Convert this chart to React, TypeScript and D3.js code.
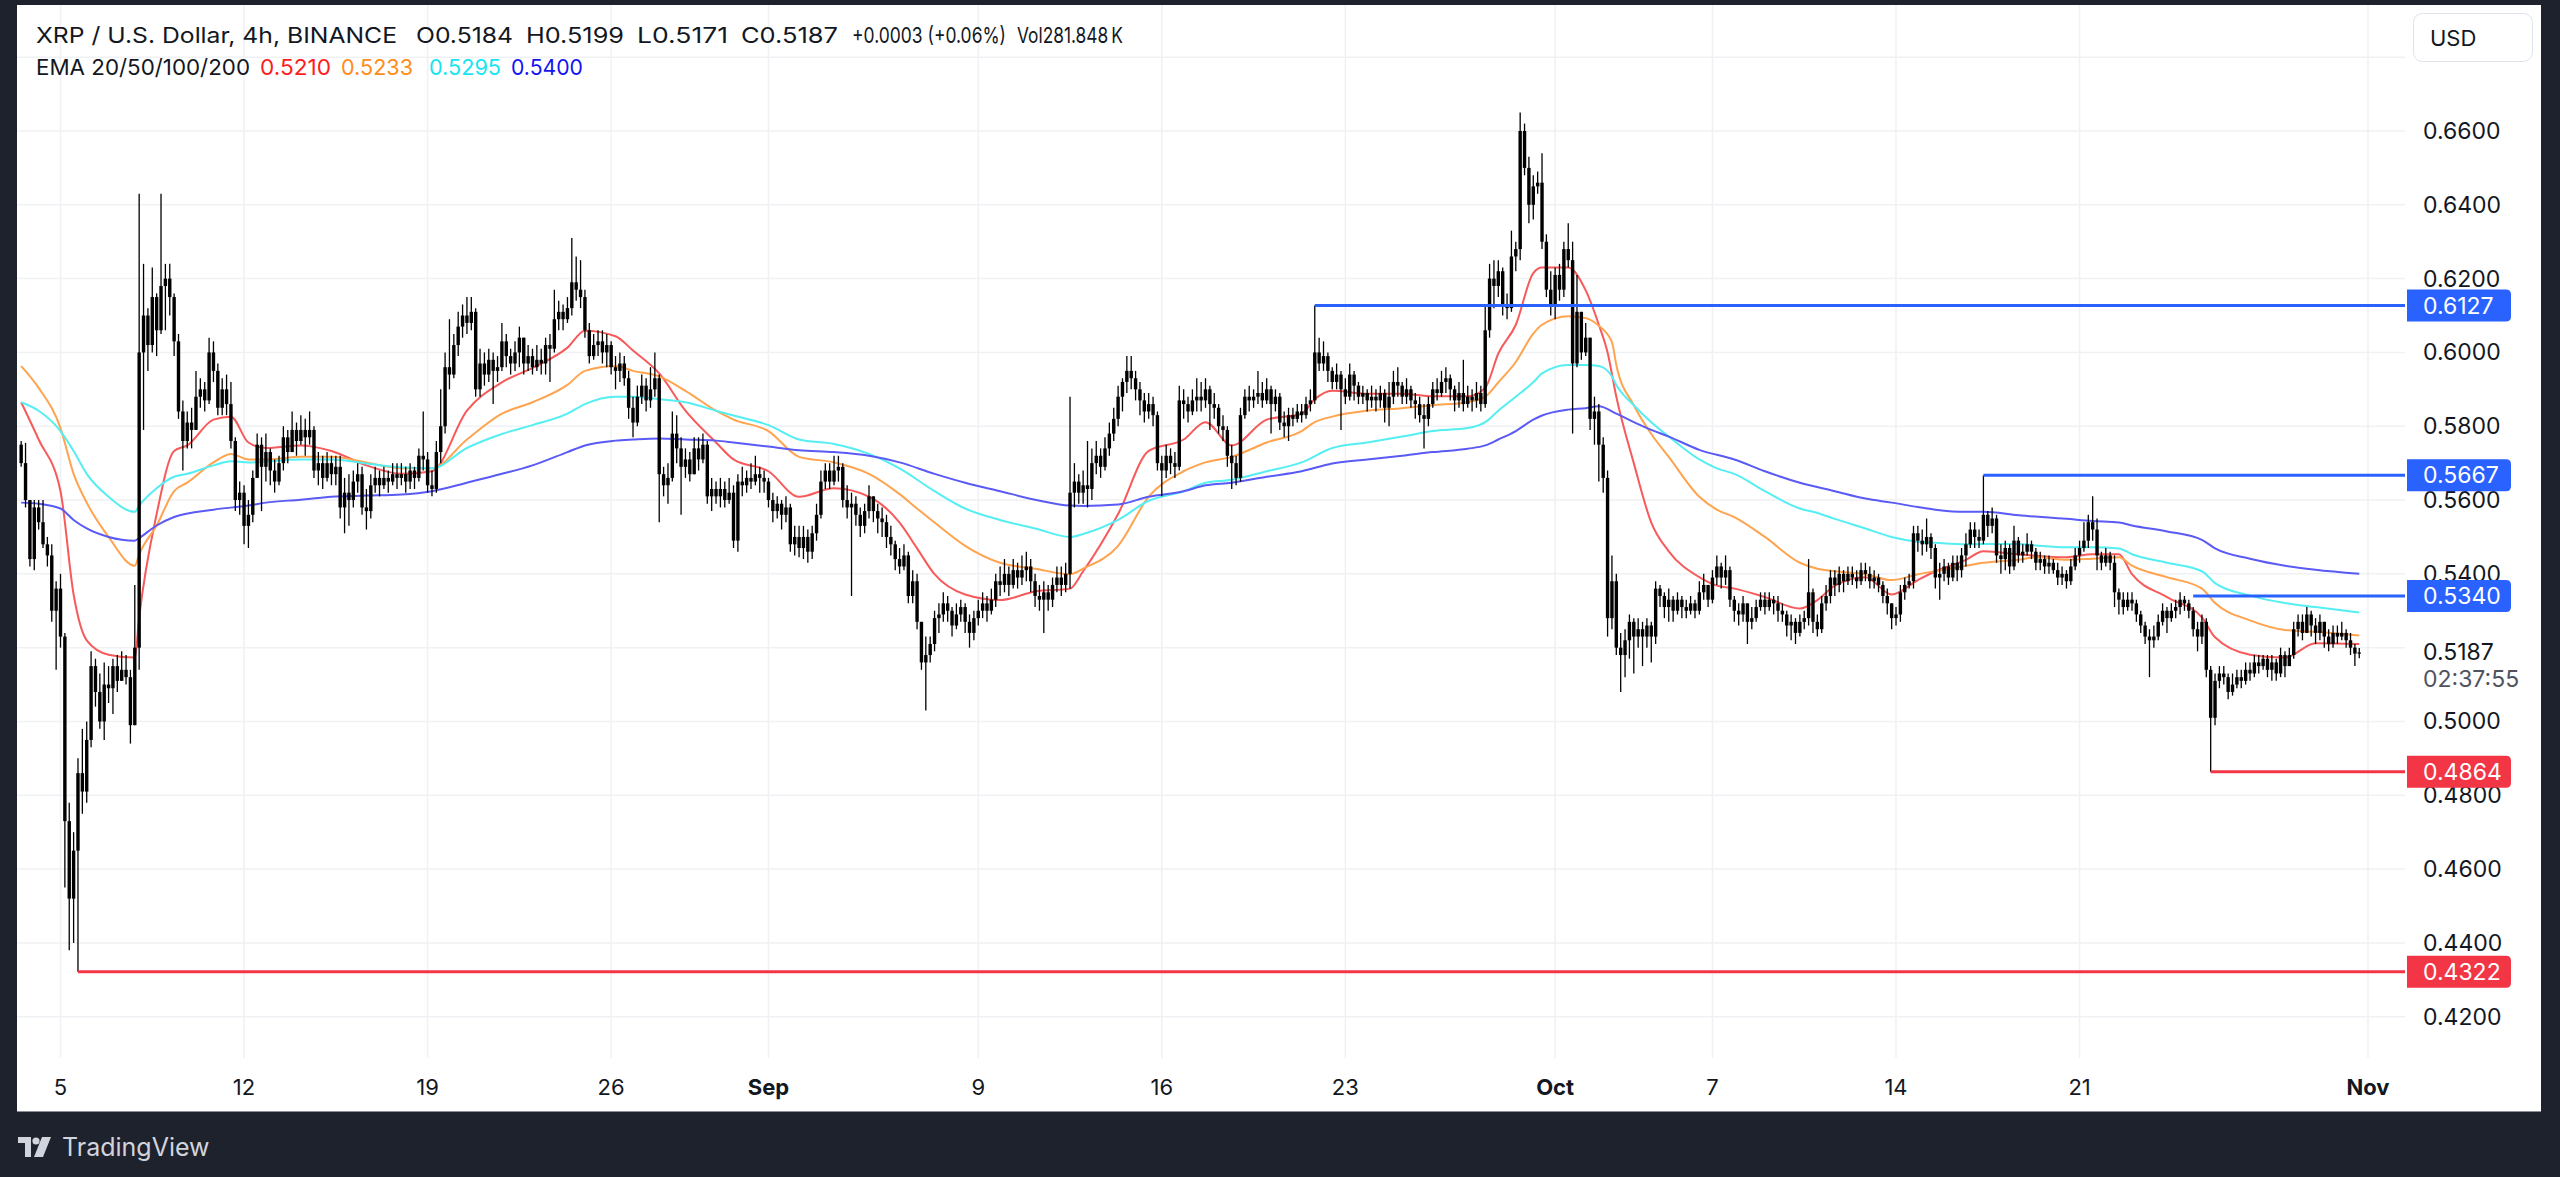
import React from "react";
import * as d3 from "d3";

const W = 2560;
const H = 1177;

// ---------------- DATA ----------------
// 4h bars; bar index 0 = 2024-08-05 00:00 UTC; first bar is index -9
const FIRST_BAR = -9;
const BAR_HOURS = 4;
const PRICE_SCALE = 10000;
const FIRST_OPEN = 5750;

const CLOSE = [
  5700,5600,5440,5580,5540,5480,5450,5300,5360,5230,
  4730,4520,4650,4860,4810,4950,5150,5080,5000,5100,
  5090,5150,5110,5140,5120,4990,5200,6000,6100,6020,
  6150,6060,6180,6200,6150,6030,5840,5760,5810,5790,
  5880,5900,5870,6000,5950,5850,5900,5860,5760,5600,
  5620,5530,5560,5660,5750,5690,5730,5680,5650,5700,
  5770,5730,5790,5760,5790,5770,5790,5680,5700,5660,
  5700,5670,5690,5580,5620,5600,5650,5670,5580,5570,
  5640,5660,5640,5660,5650,5670,5660,5670,5650,5680,
  5660,5720,5710,5640,5630,5730,5800,5960,5940,6020,
  6070,6100,6080,6110,5900,5970,5940,5980,5950,5960,
  6030,5990,5970,6000,6040,5970,5990,5960,5980,5970,
  6020,6010,6090,6110,6090,6120,6190,6170,6150,6060,
  5990,6020,6030,6000,6020,5960,5950,5970,5930,5850,
  5810,5880,5910,5870,5900,5930,5670,5640,5660,5780,
  5740,5690,5710,5670,5740,5710,5750,5610,5630,5610,
  5630,5600,5620,5490,5650,5640,5660,5650,5670,5660,
  5650,5600,5570,5590,5560,5580,5480,5500,5470,5500,
  5460,5510,5560,5650,5680,5650,5680,5690,5600,5580,
  5590,5560,5530,5570,5610,5570,5550,5540,5500,5480,
  5440,5420,5450,5340,5380,5270,5160,5180,5210,5280,
  5290,5320,5300,5260,5290,5310,5270,5240,5280,5300,
  5320,5300,5330,5380,5370,5400,5370,5410,5390,5410,
  5420,5380,5340,5330,5350,5330,5370,5390,5370,5400,
  5620,5650,5620,5640,5630,5700,5720,5690,5740,5780,
  5820,5880,5920,5950,5930,5900,5870,5840,5860,5830,
  5700,5680,5720,5700,5690,5870,5860,5840,5870,5880,
  5870,5900,5860,5850,5800,5790,5720,5700,5660,5830,
  5880,5870,5880,5890,5870,5900,5860,5880,5810,5800,
  5830,5820,5840,5830,5860,5870,6000,5970,5990,5950,
  5920,5940,5900,5880,5940,5910,5880,5890,5870,5880,
  5870,5890,5850,5880,5920,5910,5880,5900,5870,5860,
  5830,5820,5860,5900,5890,5920,5930,5900,5870,5890,
  5860,5880,5870,5890,5860,6060,6200,6180,6220,6130,
  6120,6260,6280,6600,6500,6400,6450,6460,6300,6170,
  6130,6210,6170,6280,6250,5970,6110,6000,6040,5820,
  5840,5750,5660,5280,5380,5200,5180,5220,5270,5230,
  5250,5230,5260,5230,5360,5340,5310,5330,5300,5330,
  5310,5300,5320,5300,5350,5370,5330,5390,5420,5390,
  5410,5330,5300,5290,5320,5270,5280,5310,5330,5310,
  5330,5320,5300,5290,5260,5270,5240,5270,5280,5350,
  5270,5250,5320,5340,5390,5370,5400,5380,5400,5390,
  5380,5410,5400,5380,5390,5370,5340,5320,5280,5290,
  5350,5370,5380,5510,5490,5480,5500,5470,5390,5400,
  5420,5390,5430,5410,5450,5480,5520,5500,5490,5560,
  5530,5550,5450,5440,5470,5420,5490,5450,5460,5480,
  5460,5430,5440,5420,5430,5410,5390,5400,5380,5420,
  5450,5470,5490,5540,5520,5450,5430,5450,5430,5350,
  5330,5310,5330,5320,5290,5260,5230,5220,5230,5270,
  5300,5280,5300,5310,5330,5320,5300,5250,5230,5270,
  5140,5010,5110,5130,5120,5080,5100,5120,5110,5140,
  5130,5160,5150,5170,5140,5160,5130,5180,5150,5180,
  5250,5270,5240,5290,5260,5240,5270,5230,5210,5240,
  5230,5240,5220,5200,5184,5187,
];

const HIGH = [
  5760,5755,5600,5600,5600,5600,5500,5480,5380,5400,
  5240,4780,4700,4900,4980,5000,5190,5170,5130,5160,
  5150,5170,5180,5190,5180,5140,5370,6430,6240,6120,
  6230,6160,6430,6240,6240,6160,6050,5870,5840,5850,
  5950,5930,5920,6040,6030,5970,5930,5940,5920,5770,
  5650,5640,5600,5680,5780,5770,5780,5740,5710,5720,
  5800,5790,5840,5810,5830,5820,5840,5800,5730,5720,
  5730,5720,5720,5720,5660,5670,5680,5700,5690,5630,
  5670,5690,5680,5690,5680,5700,5700,5700,5690,5700,
  5690,5740,5840,5730,5680,5760,5900,6000,6090,6050,
  6110,6130,6150,6150,6120,6010,6000,6010,6000,5990,
  6080,6050,6010,6030,6070,6040,6020,6010,6020,6010,
  6040,6050,6170,6140,6130,6150,6310,6260,6250,6170,
  6080,6050,6060,6060,6050,6030,5990,6000,5990,5950,
  5880,5910,5940,5930,5960,6000,5940,5690,5700,5840,
  5830,5770,5740,5730,5770,5770,5780,5760,5660,5650,
  5660,5650,5660,5640,5670,5690,5680,5700,5720,5690,
  5680,5660,5620,5610,5600,5610,5590,5530,5530,5530,
  5520,5530,5590,5680,5700,5700,5720,5720,5700,5640,
  5620,5610,5580,5590,5640,5610,5590,5580,5560,5530,
  5490,5470,5480,5460,5410,5400,5270,5230,5230,5300,
  5320,5350,5340,5310,5320,5330,5320,5290,5300,5330,
  5350,5340,5360,5400,5420,5440,5420,5440,5430,5450,
  5460,5440,5400,5370,5380,5370,5390,5420,5420,5430,
  5880,5700,5670,5680,5760,5740,5760,5740,5770,5810,
  5850,5910,5930,5990,5990,5950,5920,5890,5890,5880,
  5840,5720,5750,5740,5730,5910,5900,5880,5900,5930,
  5920,5930,5910,5890,5860,5830,5800,5750,5720,5850,
  5900,5910,5900,5950,5920,5930,5910,5900,5890,5840,
  5850,5850,5860,5860,5880,5900,6127,6040,6030,6000,
  5960,5970,5950,5930,5970,5950,5920,5910,5900,5910,
  5900,5910,5900,5920,5950,5960,5920,5930,5910,5890,
  5880,5860,5880,5920,5930,5950,5960,5940,5910,5920,
  5980,5910,5900,5920,5910,6130,6240,6250,6250,6230,
  6160,6330,6300,6650,6620,6530,6480,6490,6540,6320,
  6220,6230,6240,6300,6350,6300,6210,6110,6080,6040,
  5880,5860,5770,5680,5450,5400,5240,5250,5290,5280,
  5280,5270,5280,5270,5380,5370,5350,5360,5340,5350,
  5340,5330,5340,5330,5380,5400,5370,5410,5450,5430,
  5450,5420,5340,5320,5340,5320,5310,5330,5350,5350,
  5350,5340,5340,5320,5300,5290,5280,5290,5300,5440,
  5360,5290,5340,5370,5410,5410,5420,5410,5420,5420,
  5410,5430,5430,5420,5410,5400,5380,5360,5320,5310,
  5370,5390,5400,5530,5530,5520,5550,5510,5480,5430,
  5440,5430,5450,5450,5470,5510,5540,5540,5520,5667,
  5570,5580,5560,5480,5490,5480,5530,5500,5480,5510,
  5490,5470,5460,5450,5450,5440,5430,5420,5410,5440,
  5470,5490,5540,5560,5610,5550,5460,5470,5460,5450,
  5360,5350,5350,5350,5330,5300,5270,5250,5260,5290,
  5320,5310,5320,5330,5350,5340,5330,5310,5270,5290,
  5280,5150,5130,5150,5150,5130,5130,5140,5140,5160,
  5160,5180,5180,5180,5180,5180,5170,5200,5190,5200,
  5270,5290,5290,5310,5300,5280,5290,5270,5250,5260,
  5260,5270,5250,5240,5210,5199,
];

const LOW = [
  5690,5580,5420,5410,5520,5470,5420,5270,5140,5200,
  4550,4380,4400,4322,4750,4780,4930,5040,4980,4950,
  5050,5020,5080,5110,5100,4940,4990,5140,5790,5950,
  6000,5990,6050,6060,6100,5990,5820,5680,5740,5740,
  5790,5850,5840,5860,5920,5830,5830,5830,5740,5570,
  5560,5480,5470,5540,5660,5570,5650,5640,5620,5640,
  5680,5700,5740,5720,5750,5720,5750,5660,5640,5630,
  5650,5640,5640,5550,5510,5530,5580,5620,5560,5520,
  5550,5620,5610,5630,5620,5640,5630,5640,5620,5630,
  5630,5650,5680,5620,5610,5620,5700,5780,5900,5930,
  5990,6040,6050,6060,5880,5880,5910,5920,5860,5920,
  5950,5960,5940,5950,5960,5940,5950,5940,5950,5940,
  5940,5920,6000,6060,6060,6080,6100,6140,6120,6040,
  5970,5980,5990,5970,5960,5940,5900,5920,5910,5820,
  5770,5800,5860,5840,5850,5880,5540,5610,5590,5650,
  5700,5560,5660,5650,5670,5680,5700,5590,5570,5590,
  5580,5580,5590,5470,5460,5610,5620,5630,5640,5620,
  5620,5580,5540,5550,5520,5540,5460,5450,5445,5440,
  5430,5440,5490,5550,5630,5630,5640,5650,5580,5550,
  5340,5530,5500,5510,5550,5540,5510,5500,5470,5450,
  5410,5400,5410,5320,5320,5250,5140,5030,5160,5190,
  5240,5270,5270,5230,5250,5270,5240,5200,5220,5260,
  5280,5270,5290,5310,5340,5350,5340,5360,5360,5370,
  5380,5350,5310,5300,5240,5300,5310,5350,5340,5350,
  5360,5580,5590,5590,5580,5600,5670,5660,5680,5720,
  5760,5800,5840,5890,5900,5870,5830,5810,5820,5800,
  5680,5610,5660,5670,5660,5680,5820,5810,5830,5840,
  5840,5850,5790,5820,5780,5760,5690,5630,5640,5650,
  5820,5840,5850,5860,5850,5860,5780,5840,5790,5770,
  5760,5800,5810,5810,5820,5840,5860,5950,5950,5920,
  5900,5900,5790,5860,5870,5870,5860,5860,5840,5850,
  5840,5850,5810,5800,5860,5880,5860,5860,5850,5820,
  5810,5740,5800,5850,5870,5880,5890,5870,5840,5850,
  5840,5850,5840,5850,5840,5850,6040,6120,6150,6100,
  6090,6110,6220,6250,6480,6350,6360,6430,6280,6150,
  6100,6090,6140,6150,6230,5780,5960,5980,5990,5790,
  5750,5650,5620,5230,5250,5180,5080,5120,5170,5130,
  5200,5150,5200,5160,5210,5310,5280,5270,5270,5290,
  5280,5280,5290,5280,5290,5330,5310,5320,5370,5360,
  5370,5310,5270,5260,5270,5210,5250,5270,5300,5290,
  5300,5290,5270,5270,5230,5220,5210,5230,5250,5260,
  5240,5230,5240,5300,5320,5340,5350,5350,5370,5370,
  5360,5370,5380,5360,5360,5350,5320,5290,5250,5260,
  5270,5330,5360,5360,5460,5450,5460,5440,5360,5330,
  5380,5370,5380,5380,5390,5420,5470,5470,5470,5480,
  5500,5510,5430,5400,5410,5400,5410,5430,5430,5450,
  5440,5410,5410,5400,5400,5400,5370,5370,5360,5370,
  5410,5430,5460,5470,5490,5410,5410,5420,5410,5310,
  5290,5290,5300,5300,5270,5240,5210,5120,5200,5220,
  5260,5240,5270,5280,5290,5300,5280,5230,5190,5210,
  5120,4864,4990,5090,5100,5060,5070,5090,5090,5100,
  5110,5120,5130,5140,5120,5110,5110,5120,5120,5150,
  5170,5230,5220,5240,5230,5210,5220,5200,5190,5200,
  5210,5220,5200,5180,5150,5171,
];

// EMA readings: [bar index, value]
const EMA20: [number, number][] = [
  [-9,.5865],[-5,.5764],[0,.5624],[3,.5344],[6,.5220],[11,.5181],[17,.5173],[18,.5282],[22,.5562],[26,.5733],
  [29,.5748],[35,.5818],[39,.5826],[43,.5756],[47,.5741],[55,.5748],[62,.5733],[70,.5694],[78,.5671],[85,.5678],
  [93,.5842],[101,.5919],[108,.5958],[116,.6013],[120,.6059],[127,.6044],[131,.6005],[137,.5943],[143,.5842],[150,.5756],
  [154,.5710],[162,.5678],[169,.5609],[177,.5632],[185,.5609],[192,.5539],[196,.5469],[200,.5399],[207,.5344],[215,.5329],
  [223,.5352],[231,.5360],[234,.5407],[242,.5562],[249,.5733],[257,.5764],[262,.5811],[268,.5748],[276,.5818],[284,.5834],
  [287,.5873],[291,.5896],[299,.5888],[307,.5888],[314,.5881],[322,.5881],[326,.5904],[329,.5997],[333,.6075],[337,.6215],
  [339,.6230],[345,.6230],[349,.6168],[352,.6075],[354,.6000],[356,.5880],[360,.5700],[364,.5539],[368,.5461],[375,.5391],
  [379,.5368],[383,.5360],[390,.5337],[398,.5306],[402,.5329],[406,.5368],[413,.5391],[419,.5344],[425,.5383],[429,.5407],
  [436,.5438],[440,.5461],[448,.5453],[459,.5445],[465,.5453],[471,.5453],[474,.5399],[482,.5337],[490,.5282],[493,.5228],
  [501,.5181],[509,.5173],[516,.5212],[526,.5210],
];
const EMA50: [number, number][] = [
  [-9,.5963],[-5,.5904],[0,.5795],[3,.5671],[6,.5593],[11,.5500],[17,.5422],[18,.5453],[22,.5531],[26,.5624],
  [29,.5647],[35,.5702],[39,.5725],[43,.5710],[47,.5710],[55,.5717],[62,.5717],[70,.5702],[78,.5686],[85,.5686],
  [93,.5764],[101,.5834],[108,.5865],[116,.5912],[120,.5950],[127,.5963],[131,.5950],[137,.5935],[143,.5896],[150,.5842],
  [154,.5818],[162,.5787],[169,.5717],[177,.5702],[185,.5671],[192,.5616],[196,.5577],[200,.5539],[207,.5476],[215,.5430],
  [223,.5414],[231,.5399],[234,.5414],[242,.5476],[249,.5609],[257,.5678],[262,.5702],[268,.5717],[276,.5756],[284,.5787],
  [287,.5811],[291,.5826],[299,.5842],[307,.5849],[314,.5857],[322,.5865],[326,.5880],[329,.5919],[333,.5974],[337,.6051],
  [339,.6075],[345,.6098],[349,.6093],[352,.6072],[355,.6028],[356,.5966],[360,.5857],[364,.5779],[368,.5717],[375,.5609],
  [379,.5574],[383,.5554],[390,.5500],[398,.5430],[402,.5414],[406,.5407],[413,.5399],[419,.5383],[425,.5399],[429,.5407],
  [436,.5422],[440,.5430],[448,.5438],[452,.5445],[459,.5438],[465,.5441],[471,.5445],[474,.5422],[482,.5391],[490,.5360],
  [493,.5321],[501,.5274],[509,.5248],[516,.5243],[526,.5233],
];
const EMA100: [number, number][] = [
  [-9,.5865],[-5,.5842],[0,.5787],[3,.5733],[6,.5671],[11,.5609],[17,.5568],[18,.5585],[22,.5632],[26,.5663],
  [29,.5671],[35,.5694],[39,.5705],[43,.5702],[55,.5710],[62,.5710],[70,.5699],[78,.5689],[85,.5686],[93,.5741],
  [101,.5779],[108,.5803],[116,.5834],[120,.5860],[127,.5880],[131,.5880],[137,.5873],[143,.5865],[150,.5842],[154,.5829],
  [162,.5803],[169,.5764],[177,.5752],[185,.5725],[192,.5686],[200,.5624],[207,.5577],[215,.5546],[223,.5523],[231,.5500],
  [234,.5508],[242,.5546],[249,.5598],[257,.5624],[262,.5647],[268,.5655],[276,.5678],[284,.5702],[291,.5741],[299,.5756],
  [307,.5772],[314,.5787],[322,.5795],[326,.5811],[329,.5842],[333,.5880],[337,.5919],[339,.5943],[345,.5966],[349,.5966],
  [352,.5963],[355,.5935],[356,.5912],[360,.5857],[364,.5811],[368,.5772],[375,.5710],[379,.5686],[383,.5671],[390,.5624],
  [398,.5577],[402,.5565],[406,.5549],[413,.5523],[419,.5500],[425,.5487],[429,.5484],[436,.5480],[440,.5481],[448,.5481],
  [452,.5477],[459,.5472],[465,.5472],[471,.5469],[474,.5453],[482,.5430],[490,.5407],[493,.5375],[501,.5341],[509,.5321],
  [516,.5310],[526,.5295],
];
const EMA200: [number, number][] = [
  [-9,.5593],[-5,.5590],[0,.5577],[3,.5546],[6,.5523],[11,.5500],[17,.5490],[18,.5497],[22,.5531],[26,.5554],
  [35,.5574],[43,.5585],[47,.5593],[55,.5601],[62,.5609],[70,.5612],[78,.5615],[85,.5624],[93,.5647],[101,.5671],
  [108,.5694],[116,.5730],[120,.5748],[127,.5761],[131,.5764],[137,.5767],[143,.5764],[150,.5761],[154,.5756],[162,.5745],
  [169,.5735],[177,.5730],[185,.5720],[192,.5702],[200,.5671],[207,.5647],[215,.5624],[223,.5601],[231,.5585],[234,.5584],
  [242,.5588],[249,.5609],[257,.5624],[262,.5640],[268,.5647],[276,.5663],[284,.5678],[291,.5699],[299,.5710],[307,.5720],
  [314,.5730],[322,.5739],[326,.5748],[329,.5764],[333,.5787],[337,.5818],[339,.5829],[345,.5845],[349,.5849],[352,.5854],
  [356,.5834],[360,.5811],[364,.5790],[368,.5772],[375,.5736],[383,.5710],[390,.5678],[398,.5647],[406,.5624],[413,.5604],
  [419,.5593],[425,.5581],[429,.5574],[436,.5568],[440,.5568],[448,.5559],[459,.5549],[465,.5543],[471,.5539],[474,.5531],
  [482,.5515],[490,.5492],[493,.5469],[501,.5441],[509,.5422],[516,.5411],[526,.5400],
];

const EMA_SERIES = [EMA20, EMA50, EMA100, EMA200];
const EMA_LAST = ["0.5210", "0.5233", "0.5295", "0.5400"];

// horizontal levels
const LEVEL_PRICES = [0.6127, 0.5667, 0.5340, 0.4864, 0.4322];
const LEVEL_START_BAR = [287, 440, 488, 492, 4];
const LEVEL_TYPE = ["res", "res", "res", "sup", "sup"];

const PRICE_TICKS = [0.42, 0.44, 0.46, 0.48, 0.50, 0.52, 0.54, 0.56, 0.58, 0.60, 0.62, 0.64, 0.66, 0.68];
const TIME_TICK_DATES = [
  [2024, 7, 5], [2024, 7, 12], [2024, 7, 19], [2024, 7, 26], [2024, 8, 1], [2024, 8, 9], [2024, 8, 16],
  [2024, 8, 23], [2024, 9, 1], [2024, 9, 7], [2024, 9, 14], [2024, 9, 21], [2024, 10, 1],
];
const TIME_TICK_LABELS = ["5", "12", "19", "26", "Sep", "9", "16", "23", "Oct", "7", "14", "21", "Nov"];

const HEADER_SEGMENTS = [
  "XRP / U.S. Dollar, 4h, BINANCE", "O0.5184", "H0.5199", "L0.5171", "C0.5187", "+0.0003 (+0.06%)", "Vol281.848\u2009K",
];
const LAST_PRICE = "0.5187";
const COUNTDOWN = "02:37:55";

// ---------------- STYLE / LAYOUT ----------------
const FONT = "Inter, 'Noto Sans', Roboto, sans-serif";
const TEXT = "#131722";
const PANEL = { x: 17, y: 5, r: 2541, b: 1111 };
const PLOT = { l: 17, r: 2405, t: 5, b: 1058 };
const EMA_COLORS = ["#f75a5a", "#ffa34f", "#55eef2", "#5a5af5"];
const EMA_TEXT_COLORS = ["#ff1c1c", "#ff8c1a", "#14e6f0", "#1414f0"];
const LEVEL_COLORS: Record<string, string> = { res: "#2962ff", sup: "#f23645" };
const HEADER_X = [36, 416, 526, 637, 741, 852, 1017];
const HEADER_W = [361, 97, 98, 91, 97, 154, 106];
const EMA_TEXT_X = [36, 260, 341, 429, 511];
const EMA_TEXT_W = [214, 71, 72, 72, 72];

const T0 = Date.UTC(2024, 7, 5);
const barTime = (k: number) => new Date(T0 + k * BAR_HOURS * 3600 * 1000);

export default function App() {
  const x = d3.scaleTime().domain([new Date(T0), new Date(Date.UTC(2024, 10, 1))]).range([60.5, 2368]);
  const y = d3.scaleLinear().domain([0.42, 0.66]).range([1016.7, 131]);

  const bars = CLOSE.map((c, i) => {
    const k = FIRST_BAR + i;
    const o = (i === 0 ? FIRST_OPEN : CLOSE[i - 1]) / PRICE_SCALE;
    const cl = c / PRICE_SCALE;
    const hi = Math.max(HIGH[i] / PRICE_SCALE, o, cl);
    const lo = Math.min(LOW[i] / PRICE_SCALE, o, cl);
    return { k, o, c: cl, h: hi, l: lo };
  });

  const line = d3
    .line<[number, number]>()
    .x((d) => x(barTime(d[0])))
    .y((d) => y(d[1]))
    .curve(d3.curveMonotoneX);

  const lastPriceY = y(parseFloat(LAST_PRICE));
  const bodyW = 3.4;

  const labelBox = (yy: number, color: string, key: string, txt: string) => {
    const x0 = 2407, w = 104, h = 32, r = 5;
    const top = yy - h / 2;
    const d = `M${x0},${top} H${x0 + w - r} Q${x0 + w},${top} ${x0 + w},${top + r} V${top + h - r} Q${x0 + w},${top + h} ${x0 + w - r},${top + h} H${x0} Z`;
    return (
      <g key={key}>
        <path d={d} fill={color} />
        <text x={2423} y={yy} dominantBaseline="central" fontSize={23} fill="#ffffff" fontFamily={FONT}>
          {txt}
        </text>
      </g>
    );
  };

  return (
    <svg width={W} height={H} style={{ position: "absolute", left: 0, top: 0 }} xmlns="http://www.w3.org/2000/svg">
      <rect x={0} y={0} width={W} height={H} fill="#1e222d" />
      <rect x={PANEL.x} y={PANEL.y} width={PANEL.r - PANEL.x} height={PANEL.b - PANEL.y} fill="#ffffff" />
      <line x1={PANEL.x} x2={PANEL.r} y1={PANEL.b + 0.5} y2={PANEL.b + 0.5} stroke="#8a8d96" strokeWidth={1} />
      <defs>
        <clipPath id="plotClip">
          <rect x={PLOT.l} y={PLOT.t} width={PLOT.r - PLOT.l} height={PLOT.b - PLOT.t} />
        </clipPath>
      </defs>

      {/* grid */}
      {PRICE_TICKS.map((p) => (
        <line key={"hg" + p} x1={PLOT.l} x2={PLOT.r} y1={y(p)} y2={y(p)} stroke="#f0f1f4" strokeWidth={1.5} />
      ))}
      {TIME_TICK_DATES.map((d, i) => {
        const xx = x(new Date(Date.UTC(d[0], d[1], d[2])));
        return <line key={"vg" + i} x1={xx} x2={xx} y1={PLOT.t} y2={PLOT.b} stroke="#f0f1f4" strokeWidth={1.5} />;
      })}

      <g clipPath="url(#plotClip)">
        {/* EMA lines */}
        {EMA_SERIES.map((s, i) => (
          <path key={"ema" + i} d={line(s) || ""} fill="none" stroke={EMA_COLORS[i]} strokeWidth={2} />
        ))}
        {/* candles */}
        {bars.map((b) => {
          const cx = x(barTime(b.k));
          const top = y(Math.max(b.o, b.c));
          const bot = y(Math.min(b.o, b.c));
          return (
            <g key={"c" + b.k}>
              <line x1={cx} x2={cx} y1={y(b.h)} y2={y(b.l)} stroke="#000000" strokeWidth={1.3} />
              <rect x={cx - bodyW / 2} y={top} width={bodyW} height={Math.max(1.2, bot - top)} fill="#000000" />
            </g>
          );
        })}
        {/* levels */}
        {LEVEL_PRICES.map((p, i) => (
          <line
            key={"lv" + i}
            x1={x(barTime(LEVEL_START_BAR[i]))}
            x2={PLOT.r}
            y1={y(p)}
            y2={y(p)}
            stroke={LEVEL_COLORS[LEVEL_TYPE[i]]}
            strokeWidth={3}
          />
        ))}
      </g>

      {/* price axis labels */}
      {PRICE_TICKS.filter((p) => y(p) > 75 && Math.abs(y(p) - lastPriceY) > 16).map((p) => (
        <text key={"pl" + p} x={2423} y={y(p)} dominantBaseline="central" fontSize={23} fill={TEXT} fontFamily={FONT}>
          {p.toFixed(4)}
        </text>
      ))}
      <text x={2423} y={lastPriceY} dominantBaseline="central" fontSize={23} fill={TEXT} fontFamily={FONT}>
        {LAST_PRICE}
      </text>
      <text x={2423} y={lastPriceY + 27} dominantBaseline="central" fontSize={23} fill="#50535e" fontFamily={FONT}>
        {COUNTDOWN}
      </text>
      {LEVEL_PRICES.map((p, i) => labelBox(y(p), LEVEL_COLORS[LEVEL_TYPE[i]], "lb" + i, p.toFixed(4)))}

      {/* USD box */}
      <rect x={2413.5} y={13.5} width={119} height={48} rx={9} fill="#ffffff" stroke="#e0e3eb" strokeWidth={1} />
      <text x={2430} y={38} dominantBaseline="central" fontSize={22} fill={TEXT} fontFamily={FONT}>
        USD
      </text>

      {/* time axis labels */}
      {TIME_TICK_DATES.map((d, i) => {
        const xx = x(new Date(Date.UTC(d[0], d[1], d[2])));
        const bold = isNaN(Number(TIME_TICK_LABELS[i]));
        return (
          <text
            key={"tl" + i}
            x={xx}
            y={1087}
            textAnchor="middle"
            dominantBaseline="central"
            fontSize={22}
            fontWeight={bold ? 700 : 400}
            fill={TEXT}
            fontFamily={FONT}
          >
            {TIME_TICK_LABELS[i]}
          </text>
        );
      })}

      {/* header */}
      {HEADER_SEGMENTS.map((s, i) => (
        <text
          key={"h" + i}
          x={HEADER_X[i]}
          y={35}
          dominantBaseline="central"
          fontSize={22}
          fill={TEXT}
          fontFamily={FONT}
          textLength={HEADER_W[i]}
          lengthAdjust="spacingAndGlyphs"
        >
          {s}
        </text>
      ))}
      <text
        x={EMA_TEXT_X[0]}
        y={67}
        dominantBaseline="central"
        fontSize={22}
        fill={TEXT}
        fontFamily={FONT}
        textLength={EMA_TEXT_W[0]}
        lengthAdjust="spacingAndGlyphs"
      >
        EMA 20/50/100/200
      </text>
      {EMA_LAST.map((v, i) => (
        <text
          key={"ev" + i}
          x={EMA_TEXT_X[i + 1]}
          y={67}
          dominantBaseline="central"
          fontSize={22}
          fill={EMA_TEXT_COLORS[i]}
          fontFamily={FONT}
          textLength={EMA_TEXT_W[i + 1]}
          lengthAdjust="spacingAndGlyphs"
        >
          {v}
        </text>
      ))}

      {/* footer logo */}
      <g fill="#d1d4dc">
        <path d="M18,1137 H31 V1157 H25 V1143 H18 Z" />
        <circle cx={36} cy={1141} r={3.6} />
        <path d="M42,1137 H51 L43,1157 H34 Z" />
      </g>
      <text x={62} y={1147} dominantBaseline="central" fontSize={25} fill="#d1d4dc" fontFamily={FONT}>
        TradingView
      </text>
    </svg>
  );
}
